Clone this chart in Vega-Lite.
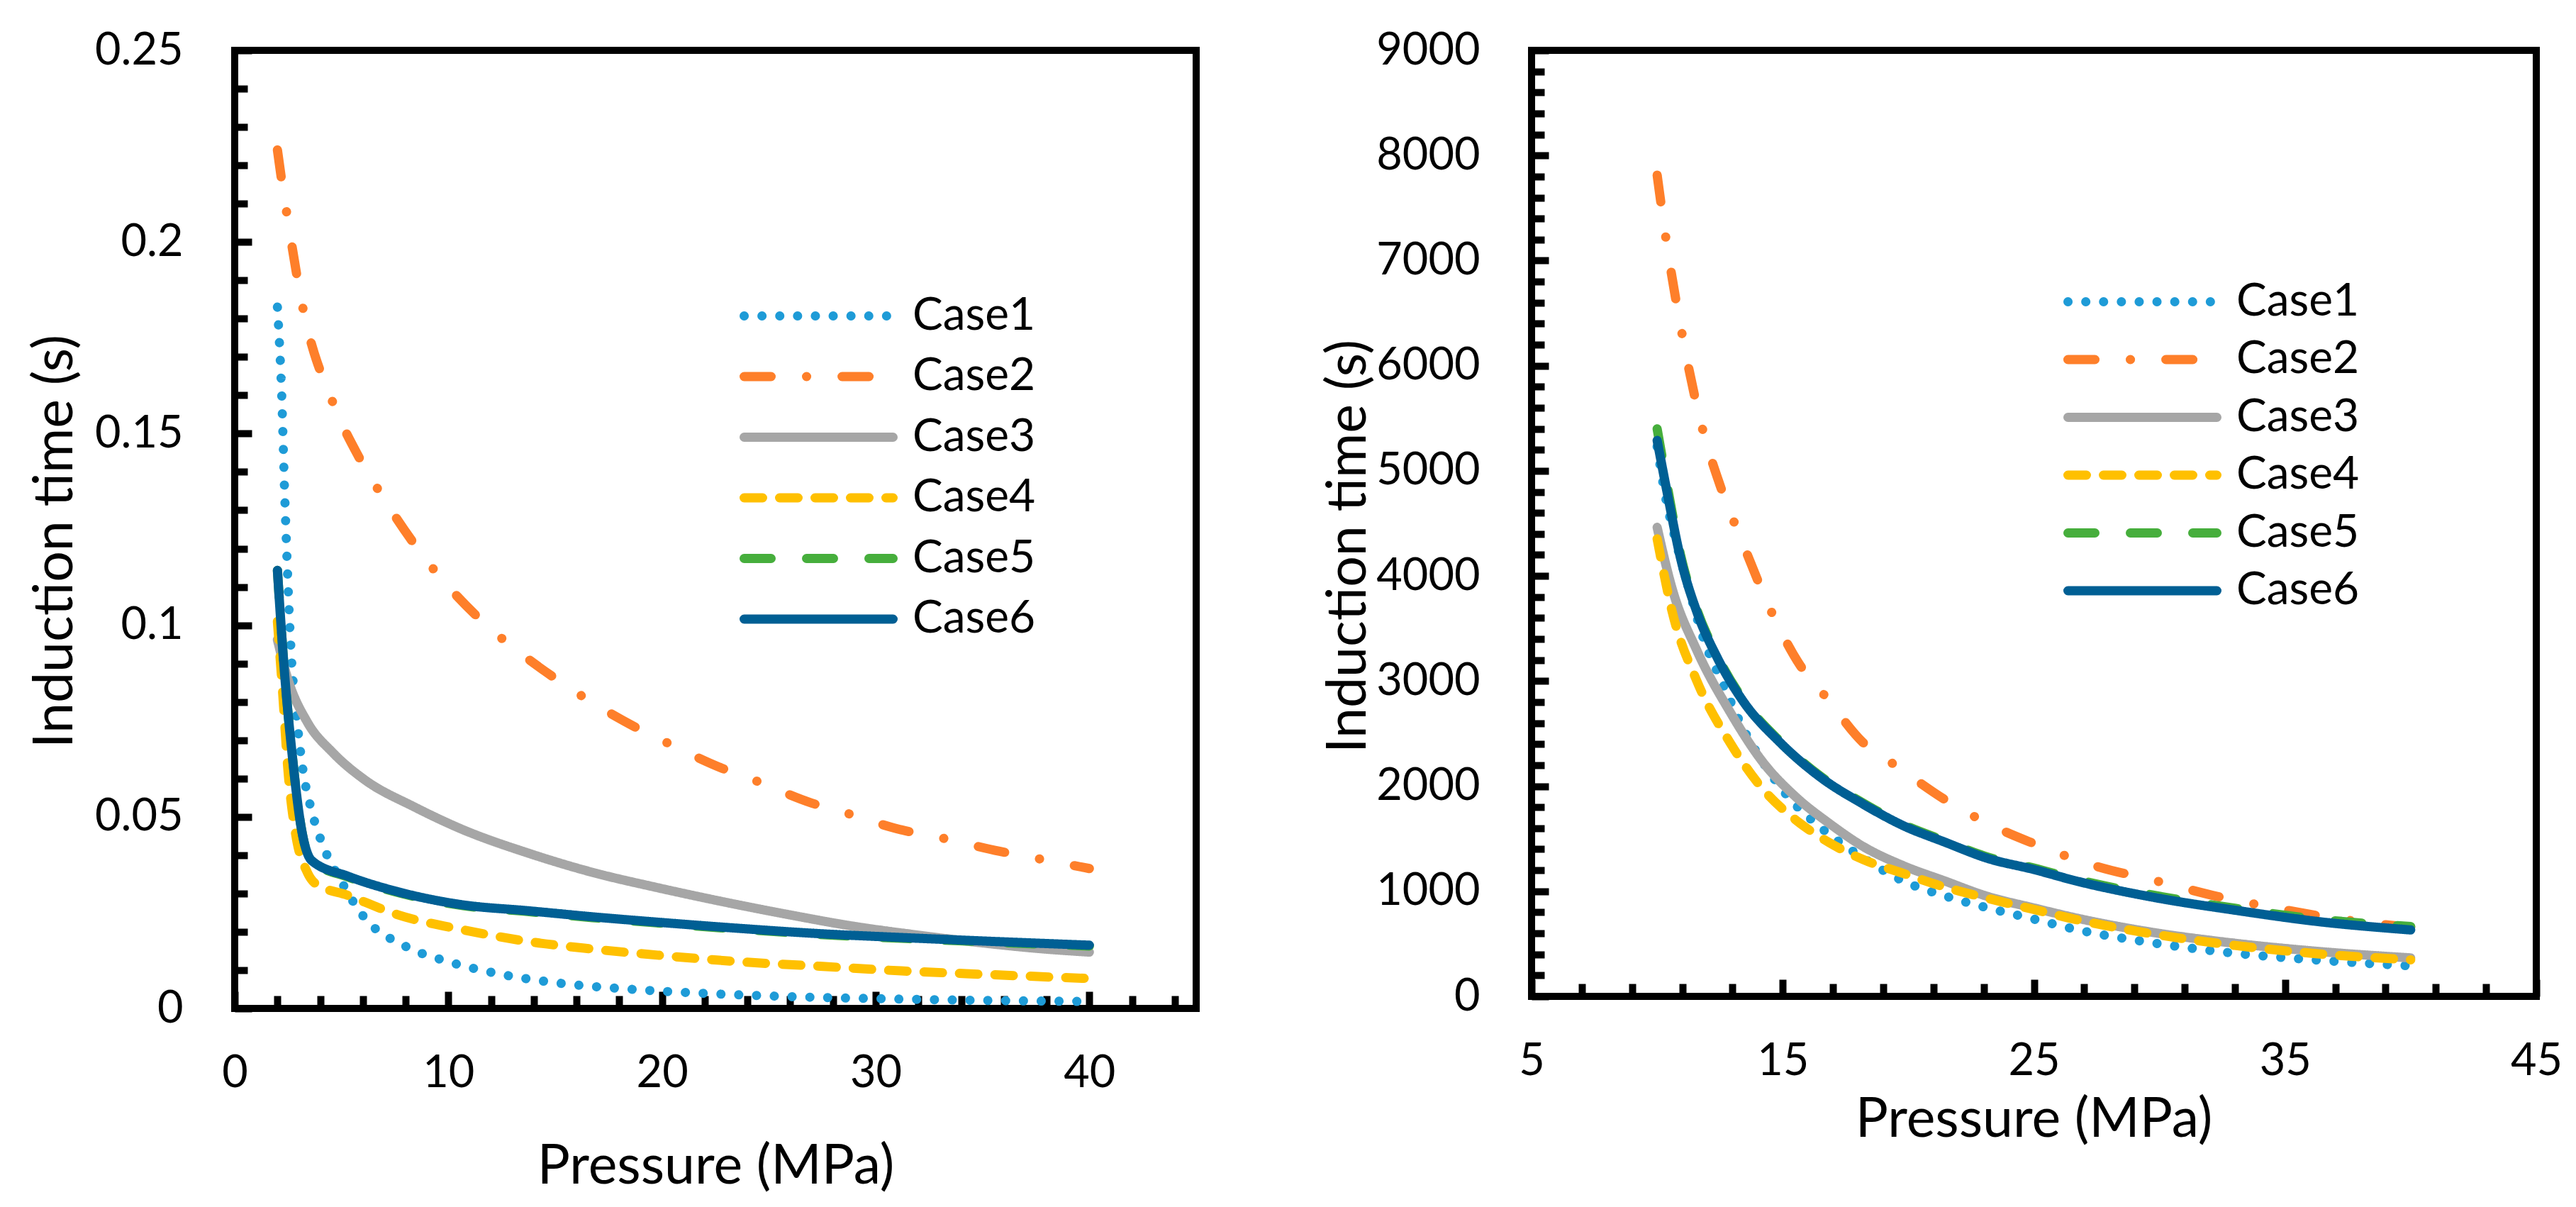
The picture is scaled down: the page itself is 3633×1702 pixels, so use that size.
{
  "$schema": "https://vega.github.io/schema/vega-lite/v6.json",
  "background": "white",
  "autosize": {"type": "pad"},
  "padding": {"left": 34, "top": 35, "right": 10, "bottom": 10},
  "bounds": "flush",
  "spacing": 473,
  "config": {
    "font": "Lato",
    "view": {"stroke": "black", "strokeWidth": 10},
    "axis": {
      "domain": false,
      "grid": false,
      "tickColor": "black",
      "tickWidth": 10,
      "labelColor": "black",
      "labelFont": "Lato",
      "labelFontSize": 63,
      "labelFlush": false,
      "labelOverlap": false,
      "titleFont": "Lato",
      "titleFontSize": 77,
      "titleFontWeight": "normal",
      "titleColor": "black",
      "titleBaseline": "middle"
    },
    "legend": {
      "title": null,
      "orient": "none",
      "padding": 0,
      "symbolType": "M-3.5,0H3.5",
      "symbolSize": 3600,
      "symbolStrokeWidth": 13,
      "labelFont": "Lato",
      "labelFontSize": 64,
      "labelColor": "black",
      "labelOffset": 96,
      "labelLimit": 0
    }
  },
  "resolve": {"scale": {"color": "independent", "strokeDash": "independent"}},
  "datasets": {
    "left": [
      {"case": "Case1", "p": 2, "t": 0.183},
      {"case": "Case1", "p": 2.2, "t": 0.16},
      {"case": "Case1", "p": 2.33, "t": 0.136},
      {"case": "Case1", "p": 2.47, "t": 0.114},
      {"case": "Case1", "p": 2.65, "t": 0.092},
      {"case": "Case1", "p": 2.9, "t": 0.076},
      {"case": "Case1", "p": 3.2, "t": 0.062},
      {"case": "Case1", "p": 3.6, "t": 0.0516},
      {"case": "Case1", "p": 4.2, "t": 0.0416},
      {"case": "Case1", "p": 4.95, "t": 0.0335},
      {"case": "Case1", "p": 6, "t": 0.0242},
      {"case": "Case1", "p": 8, "t": 0.0162},
      {"case": "Case1", "p": 10, "t": 0.0122},
      {"case": "Case1", "p": 12.2, "t": 0.0092},
      {"case": "Case1", "p": 15.2, "t": 0.0066},
      {"case": "Case1", "p": 18.3, "t": 0.0051},
      {"case": "Case1", "p": 22.1, "t": 0.0039},
      {"case": "Case1", "p": 25.9, "t": 0.0031},
      {"case": "Case1", "p": 30.5, "t": 0.0025},
      {"case": "Case1", "p": 35, "t": 0.0021},
      {"case": "Case1", "p": 40, "t": 0.0018},
      {"case": "Case2", "p": 2, "t": 0.224},
      {"case": "Case2", "p": 2.2, "t": 0.216},
      {"case": "Case2", "p": 2.45, "t": 0.207},
      {"case": "Case2", "p": 3.2, "t": 0.1825},
      {"case": "Case2", "p": 4.6, "t": 0.158},
      {"case": "Case2", "p": 5.8, "t": 0.144},
      {"case": "Case2", "p": 6.7, "t": 0.1355},
      {"case": "Case2", "p": 8.3, "t": 0.122},
      {"case": "Case2", "p": 9.25, "t": 0.115},
      {"case": "Case2", "p": 11.4, "t": 0.102},
      {"case": "Case2", "p": 12.45, "t": 0.0968},
      {"case": "Case2", "p": 14.85, "t": 0.0867},
      {"case": "Case2", "p": 16.2, "t": 0.0817},
      {"case": "Case2", "p": 18.65, "t": 0.0737},
      {"case": "Case2", "p": 20.1, "t": 0.0697},
      {"case": "Case2", "p": 22.8, "t": 0.0627},
      {"case": "Case2", "p": 24.3, "t": 0.0596},
      {"case": "Case2", "p": 27, "t": 0.0536},
      {"case": "Case2", "p": 28.5, "t": 0.0512},
      {"case": "Case2", "p": 31.2, "t": 0.0466},
      {"case": "Case2", "p": 33, "t": 0.0446},
      {"case": "Case2", "p": 35.8, "t": 0.041},
      {"case": "Case2", "p": 37.4, "t": 0.0393},
      {"case": "Case2", "p": 40, "t": 0.0365},
      {"case": "Case3", "p": 2, "t": 0.0962},
      {"case": "Case3", "p": 2.5, "t": 0.0857},
      {"case": "Case3", "p": 3.4, "t": 0.0747},
      {"case": "Case3", "p": 4.6, "t": 0.0667},
      {"case": "Case3", "p": 6.1, "t": 0.0596},
      {"case": "Case3", "p": 8.4, "t": 0.0526},
      {"case": "Case3", "p": 10.7, "t": 0.0466},
      {"case": "Case3", "p": 13.7, "t": 0.0406},
      {"case": "Case3", "p": 16.75, "t": 0.0355},
      {"case": "Case3", "p": 19.8, "t": 0.0315},
      {"case": "Case3", "p": 22.8, "t": 0.0279},
      {"case": "Case3", "p": 25.9, "t": 0.0245},
      {"case": "Case3", "p": 28.9, "t": 0.0215},
      {"case": "Case3", "p": 32, "t": 0.0191},
      {"case": "Case3", "p": 35, "t": 0.0171},
      {"case": "Case3", "p": 37.7, "t": 0.0156},
      {"case": "Case3", "p": 40, "t": 0.0147},
      {"case": "Case4", "p": 2, "t": 0.101},
      {"case": "Case4", "p": 2.25, "t": 0.082},
      {"case": "Case4", "p": 2.5, "t": 0.0617},
      {"case": "Case4", "p": 2.85, "t": 0.0456},
      {"case": "Case4", "p": 3.4, "t": 0.0355},
      {"case": "Case4", "p": 3.8, "t": 0.0325},
      {"case": "Case4", "p": 5.3, "t": 0.0295},
      {"case": "Case4", "p": 7.6, "t": 0.0245},
      {"case": "Case4", "p": 10.7, "t": 0.0205},
      {"case": "Case4", "p": 13.7, "t": 0.0175},
      {"case": "Case4", "p": 16.75, "t": 0.0155},
      {"case": "Case4", "p": 19.8, "t": 0.0139},
      {"case": "Case4", "p": 23.6, "t": 0.0122},
      {"case": "Case4", "p": 27.4, "t": 0.011},
      {"case": "Case4", "p": 31.2, "t": 0.0098},
      {"case": "Case4", "p": 35, "t": 0.0089},
      {"case": "Case4", "p": 40, "t": 0.0078},
      {"case": "Case5", "p": 2, "t": 0.1143},
      {"case": "Case5", "p": 2.3, "t": 0.0898},
      {"case": "Case5", "p": 2.7, "t": 0.0657},
      {"case": "Case5", "p": 3.1, "t": 0.0476},
      {"case": "Case5", "p": 3.6, "t": 0.0384},
      {"case": "Case5", "p": 5.3, "t": 0.0343},
      {"case": "Case5", "p": 7.6, "t": 0.0303},
      {"case": "Case5", "p": 10.7, "t": 0.0268},
      {"case": "Case5", "p": 13.7, "t": 0.0253},
      {"case": "Case5", "p": 16.75, "t": 0.0237},
      {"case": "Case5", "p": 19.8, "t": 0.0223},
      {"case": "Case5", "p": 23.6, "t": 0.0207},
      {"case": "Case5", "p": 27.4, "t": 0.0193},
      {"case": "Case5", "p": 31.2, "t": 0.0183},
      {"case": "Case5", "p": 35, "t": 0.0174},
      {"case": "Case5", "p": 40, "t": 0.0163},
      {"case": "Case6", "p": 2, "t": 0.1143},
      {"case": "Case6", "p": 2.3, "t": 0.0898},
      {"case": "Case6", "p": 2.7, "t": 0.0657},
      {"case": "Case6", "p": 3.1, "t": 0.0476},
      {"case": "Case6", "p": 3.6, "t": 0.0386},
      {"case": "Case6", "p": 5.3, "t": 0.0345},
      {"case": "Case6", "p": 7.6, "t": 0.0305},
      {"case": "Case6", "p": 10.7, "t": 0.027},
      {"case": "Case6", "p": 13.7, "t": 0.0255},
      {"case": "Case6", "p": 16.75, "t": 0.0239},
      {"case": "Case6", "p": 19.8, "t": 0.0225},
      {"case": "Case6", "p": 23.6, "t": 0.0209},
      {"case": "Case6", "p": 27.4, "t": 0.0195},
      {"case": "Case6", "p": 31.2, "t": 0.0185},
      {"case": "Case6", "p": 35, "t": 0.0176},
      {"case": "Case6", "p": 40, "t": 0.0165}
    ],
    "right": [
      {"case": "Case1", "p": 10, "t": 5230},
      {"case": "Case1", "p": 10.33, "t": 4755},
      {"case": "Case1", "p": 10.76, "t": 4316},
      {"case": "Case1", "p": 11.26, "t": 3877},
      {"case": "Case1", "p": 11.9, "t": 3365},
      {"case": "Case1", "p": 12.57, "t": 2999},
      {"case": "Case1", "p": 13.4, "t": 2560},
      {"case": "Case1", "p": 14.2, "t": 2231},
      {"case": "Case1", "p": 15.2, "t": 1902},
      {"case": "Case1", "p": 16.5, "t": 1609},
      {"case": "Case1", "p": 18.2, "t": 1317},
      {"case": "Case1", "p": 19.8, "t": 1097},
      {"case": "Case1", "p": 21.46, "t": 955},
      {"case": "Case1", "p": 23.1, "t": 845},
      {"case": "Case1", "p": 25, "t": 735},
      {"case": "Case1", "p": 26.7, "t": 635},
      {"case": "Case1", "p": 29.7, "t": 510},
      {"case": "Case1", "p": 33, "t": 410},
      {"case": "Case1", "p": 36.3, "t": 345},
      {"case": "Case1", "p": 40, "t": 290},
      {"case": "Case2", "p": 10, "t": 7813},
      {"case": "Case2", "p": 10.33, "t": 7242},
      {"case": "Case2", "p": 11, "t": 6291},
      {"case": "Case2", "p": 11.75, "t": 5450},
      {"case": "Case2", "p": 12.5, "t": 4865},
      {"case": "Case2", "p": 13.4, "t": 4316},
      {"case": "Case2", "p": 14.55, "t": 3658},
      {"case": "Case2", "p": 15.7, "t": 3146},
      {"case": "Case2", "p": 16.7, "t": 2853},
      {"case": "Case2", "p": 18.2, "t": 2414},
      {"case": "Case2", "p": 19.5, "t": 2195},
      {"case": "Case2", "p": 21.5, "t": 1865},
      {"case": "Case2", "p": 23.8, "t": 1573},
      {"case": "Case2", "p": 24.9, "t": 1463},
      {"case": "Case2", "p": 27.4, "t": 1244},
      {"case": "Case2", "p": 29.9, "t": 1097},
      {"case": "Case2", "p": 32.3, "t": 951},
      {"case": "Case2", "p": 34.6, "t": 841},
      {"case": "Case2", "p": 37.3, "t": 731},
      {"case": "Case2", "p": 40, "t": 658},
      {"case": "Case3", "p": 10, "t": 4462},
      {"case": "Case3", "p": 10.6, "t": 3877},
      {"case": "Case3", "p": 11.58, "t": 3292},
      {"case": "Case3", "p": 12.9, "t": 2707},
      {"case": "Case3", "p": 14.2, "t": 2231},
      {"case": "Case3", "p": 15.5, "t": 1902},
      {"case": "Case3", "p": 16.85, "t": 1646},
      {"case": "Case3", "p": 18.2, "t": 1426},
      {"case": "Case3", "p": 19.8, "t": 1243},
      {"case": "Case3", "p": 21.46, "t": 1097},
      {"case": "Case3", "p": 23.1, "t": 955},
      {"case": "Case3", "p": 25, "t": 841},
      {"case": "Case3", "p": 26.7, "t": 745},
      {"case": "Case3", "p": 29.7, "t": 610},
      {"case": "Case3", "p": 33, "t": 505},
      {"case": "Case3", "p": 36.3, "t": 428},
      {"case": "Case3", "p": 40, "t": 366},
      {"case": "Case4", "p": 10, "t": 4353},
      {"case": "Case4", "p": 10.6, "t": 3658},
      {"case": "Case4", "p": 11.58, "t": 3000},
      {"case": "Case4", "p": 12.9, "t": 2414},
      {"case": "Case4", "p": 14.2, "t": 1975},
      {"case": "Case4", "p": 15.5, "t": 1682},
      {"case": "Case4", "p": 16.85, "t": 1463},
      {"case": "Case4", "p": 18.2, "t": 1302},
      {"case": "Case4", "p": 19.8, "t": 1170},
      {"case": "Case4", "p": 21.46, "t": 1039},
      {"case": "Case4", "p": 23.1, "t": 936},
      {"case": "Case4", "p": 25, "t": 827},
      {"case": "Case4", "p": 26.7, "t": 730},
      {"case": "Case4", "p": 29.7, "t": 595},
      {"case": "Case4", "p": 33, "t": 485},
      {"case": "Case4", "p": 36.3, "t": 405},
      {"case": "Case4", "p": 40, "t": 348},
      {"case": "Case5", "p": 10, "t": 5399},
      {"case": "Case5", "p": 10.43, "t": 4820},
      {"case": "Case5", "p": 10.93, "t": 4200},
      {"case": "Case5", "p": 11.58, "t": 3680},
      {"case": "Case5", "p": 12.4, "t": 3235},
      {"case": "Case5", "p": 13.4, "t": 2830},
      {"case": "Case5", "p": 14.9, "t": 2425},
      {"case": "Case5", "p": 16.5, "t": 2095},
      {"case": "Case5", "p": 18.2, "t": 1840},
      {"case": "Case5", "p": 19.8, "t": 1635},
      {"case": "Case5", "p": 21.5, "t": 1475},
      {"case": "Case5", "p": 23.1, "t": 1330},
      {"case": "Case5", "p": 25, "t": 1220},
      {"case": "Case5", "p": 26.7, "t": 1112},
      {"case": "Case5", "p": 29.7, "t": 965},
      {"case": "Case5", "p": 33, "t": 838},
      {"case": "Case5", "p": 36.3, "t": 735},
      {"case": "Case5", "p": 40, "t": 665},
      {"case": "Case6", "p": 10, "t": 5289},
      {"case": "Case6", "p": 10.43, "t": 4755},
      {"case": "Case6", "p": 10.93, "t": 4170},
      {"case": "Case6", "p": 11.58, "t": 3658},
      {"case": "Case6", "p": 12.4, "t": 3219},
      {"case": "Case6", "p": 13.4, "t": 2816},
      {"case": "Case6", "p": 14.9, "t": 2414},
      {"case": "Case6", "p": 16.5, "t": 2085},
      {"case": "Case6", "p": 18.2, "t": 1829},
      {"case": "Case6", "p": 19.8, "t": 1624},
      {"case": "Case6", "p": 21.5, "t": 1463},
      {"case": "Case6", "p": 23.1, "t": 1317},
      {"case": "Case6", "p": 25, "t": 1207},
      {"case": "Case6", "p": 26.7, "t": 1097},
      {"case": "Case6", "p": 29.7, "t": 945},
      {"case": "Case6", "p": 33, "t": 820},
      {"case": "Case6", "p": 36.3, "t": 712},
      {"case": "Case6", "p": 40, "t": 632}
    ]
  },
  "hconcat": [
    {
      "data": {"name": "left"},
      "width": 1356,
      "height": 1351,
      "resolve": {"axis": {"x": "independent", "y": "independent"}},
      "layer": [
        {
          "mark": {"type": "line", "strokeWidth": 13, "strokeCap": "round", "strokeJoin": "round", "interpolate": "monotone"},
          "encoding": {
            "x": {
              "field": "p", "type": "quantitative",
              "scale": {"domain": [0, 45], "nice": false, "zero": false},
              "axis": {
                "orient": "bottom", "values": [0, 10, 20, 30, 40], "tickSize": -24,
                "labelPadding": 84, "title": "Pressure (MPa)", "titleX": 678, "titleY": 223
              }
            },
            "y": {
              "field": "t", "type": "quantitative",
              "scale": {"domain": [0, 0.25], "nice": false, "zero": false},
              "axis": {
                "orient": "left", "values": [0, 0.05, 0.1, 0.15, 0.2, 0.25], "format": "~g", "tickSize": -24,
                "labelPadding": 97, "title": "Induction time (s)", "titleX": -253, "titleY": 692
              }
            },
            "color": {
              "field": "case", "type": "nominal",
              "scale": {
                "domain": ["Case1", "Case2", "Case3", "Case4", "Case5", "Case6"],
                "range": ["#1e9bd7", "#fe7f2a", "#a6a6a6", "#ffc000", "#46ae3c", "#005f94"]
              },
              "legend": {
                "symbolType": "M-3.5,0H3.5",
                "legendX": 787, "legendY": 338, "rowPadding": 16.5,
                "encode": {"symbols": {"update": {"strokeCap": {"value": "round"}}}}
              }
            },
            "strokeDash": {
              "field": "case", "type": "nominal",
              "scale": {
                "domain": ["Case1", "Case2", "Case3", "Case4", "Case5", "Case6"],
                "range": [[0.1, 25], [38, 50, 0.1, 50], [1, 0], [26, 24], [38, 50], [1, 0]]
              }
            }
          }
        },
        {
          "mark": {"type": "point", "opacity": 0},
          "encoding": {
            "x": {
              "field": "p", "type": "quantitative",
              "axis": {
                "orient": "bottom", "values": [2, 4, 6, 8, 12, 14, 16, 18, 22, 24, 26, 28, 32, 34, 36, 38, 42, 44],
                "tickSize": -18, "labels": false, "title": null
              }
            },
            "y": {
              "field": "t", "type": "quantitative",
              "axis": {
                "orient": "left", "values": [0.01, 0.02, 0.03, 0.04, 0.06, 0.07, 0.08, 0.09, 0.11, 0.12, 0.13, 0.14, 0.16, 0.17, 0.18, 0.19, 0.21, 0.22, 0.23, 0.24],
                "tickSize": -18, "labels": false, "title": null
              }
            }
          }
        }
      ]
    },
    {
      "data": {"name": "right"},
      "width": 1417,
      "height": 1334,
      "resolve": {"axis": {"x": "independent", "y": "independent"}},
      "layer": [
        {
          "mark": {"type": "line", "strokeWidth": 13, "strokeCap": "round", "strokeJoin": "round", "interpolate": "monotone"},
          "encoding": {
            "x": {
              "field": "p", "type": "quantitative",
              "scale": {"domain": [5, 45], "nice": false, "zero": false},
              "axis": {
                "orient": "bottom", "values": [5, 15, 25, 35, 45], "tickSize": -24,
                "labelPadding": 84, "title": "Pressure (MPa)", "titleX": 708, "titleY": 174
              }
            },
            "y": {
              "field": "t", "type": "quantitative",
              "scale": {"domain": [0, 9000], "nice": false, "zero": false},
              "axis": {
                "orient": "left", "values": [0, 1000, 2000, 3000, 4000, 5000, 6000, 7000, 8000, 9000], "format": "d", "tickSize": -24,
                "labelPadding": 97, "title": "Induction time (s)", "titleX": -258, "titleY": 699
              }
            },
            "color": {
              "field": "case", "type": "nominal",
              "scale": {
                "domain": ["Case1", "Case2", "Case3", "Case4", "Case5", "Case6"],
                "range": ["#1e9bd7", "#fe7f2a", "#a6a6a6", "#ffc000", "#46ae3c", "#005f94"]
              },
              "legend": {
                "symbolType": "M-3.5,0H3.5",
                "legendX": 825, "legendY": 318, "rowPadding": 12.5,
                "encode": {"symbols": {"update": {"strokeCap": {"value": "round"}}}}
              }
            },
            "strokeDash": {
              "field": "case", "type": "nominal",
              "scale": {
                "domain": ["Case1", "Case2", "Case3", "Case4", "Case5", "Case6"],
                "range": [[0.1, 25], [38, 50, 0.1, 50], [1, 0], [26, 24], [38, 50], [1, 0]]
              }
            }
          }
        },
        {
          "mark": {"type": "point", "opacity": 0},
          "encoding": {
            "x": {
              "field": "p", "type": "quantitative",
              "axis": {
                "orient": "bottom", "values": [7, 9, 11, 13, 17, 19, 21, 23, 27, 29, 31, 33, 37, 39, 41, 43],
                "tickSize": -18, "labels": false, "title": null
              }
            },
            "y": {
              "field": "t", "type": "quantitative",
              "axis": {
                "orient": "left", "values": [200, 400, 600, 800, 1200, 1400, 1600, 1800, 2200, 2400, 2600, 2800, 3200, 3400, 3600, 3800, 4200, 4400, 4600, 4800, 5200, 5400, 5600, 5800, 6200, 6400, 6600, 6800, 7200, 7400, 7600, 7800, 8200, 8400, 8600, 8800],
                "tickSize": -18, "labels": false, "title": null
              }
            }
          }
        }
      ]
    }
  ]
}
